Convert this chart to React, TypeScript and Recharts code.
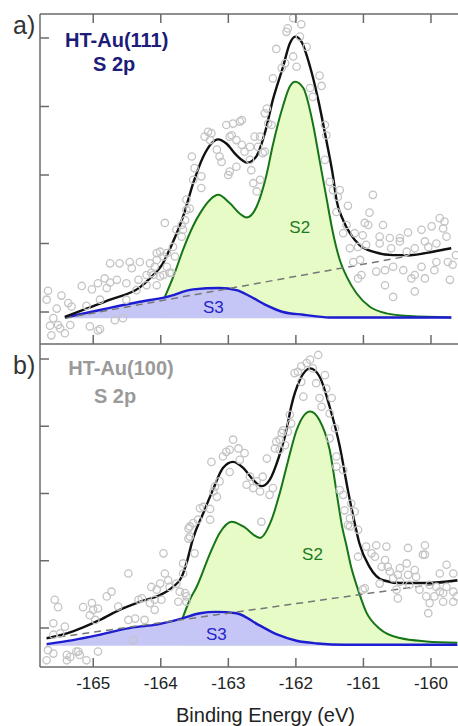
import { ComposedChart, Area, Line, Scatter, XAxis, YAxis } from "recharts";

const xTicks = [-165, -164, -163, -162, -161, -160];
const yTicks = [1, 2, 3, 4, 5];

// a) HT-Au(111) S 2p  — [binding energy, intensity]
const measuredA = [
  [-165.67, 1.31], [-165.69, 1.18], [-165.47, 1.24], [-165.37, 1.13], [-165.54, 1.05], [-165.32, 1.08],
  [-165.59, 0.91], [-165.64, 0.8], [-165.52, 0.81], [-165.62, 0.66], [-165.42, 0.69], [-165.49, 0.76],
  [-165.34, 0.81], [-165.05, 0.79], [-164.9, 0.75], [-164.93, 0.73], [-165.17, 1.38], [-165.02, 1.33],
  [-164.93, 1.42], [-164.83, 1.49], [-164.75, 1.43], [-164.65, 1.47], [-164.8, 1.35], [-164.9, 1.18],
  [-165.1, 1.09], [-164.51, 1.42], [-164.33, 1.47], [-164.21, 1.39], [-164.06, 1.39], [-164.36, 1.32],
  [-164.51, 1.18], [-164.68, 0.88], [-164.56, 0.91], [-164.75, 1.71], [-164.61, 1.71], [-164.46, 1.73],
  [-164.43, 1.64], [-164.31, 1.73], [-164.16, 1.71], [-164.09, 1.66], [-164.01, 1.88], [-163.91, 1.86],
  [-163.91, 1.66], [-163.87, 1.57], [-163.96, 1.54], [-164.11, 1.54], [-164.21, 1.54], [-164.06, 1.86],
  [-163.94, 2.3], [-163.77, 2.2], [-163.69, 2.27], [-163.64, 2.34], [-163.62, 2.49], [-163.57, 2.51],
  [-163.62, 2.64], [-163.54, 3.27], [-163.52, 2.93], [-163.5, 3.1], [-163.4, 2.81], [-163.4, 2.98],
  [-163.35, 3.56], [-163.3, 3.63], [-163.27, 3.51], [-163.25, 3.61], [-163.17, 3.37], [-163.13, 3.27],
  [-163.1, 3.19], [-163.03, 3.73], [-162.93, 3.75], [-162.83, 3.78], [-162.95, 3.58], [-162.88, 3.51],
  [-162.8, 3.44], [-162.98, 3.05], [-163.0, 3.0], [-162.88, 3.12], [-162.76, 3.34], [-162.68, 3.22],
  [-162.66, 3.07], [-162.63, 2.88], [-162.58, 2.76], [-162.53, 2.93], [-162.56, 3.41], [-162.46, 3.34],
  [-162.53, 3.56], [-162.46, 3.9], [-162.41, 3.75], [-164.06, 1.76], [-163.96, 1.81], [-163.82, 1.95],
  [-163.79, 1.81], [-163.84, 1.57], [-163.69, 2.1], [-163.67, 2.2], [-164.14, 1.57], [-164.01, 1.52],
  [-162.04, 5.29], [-161.92, 5.2], [-162.12, 5.14], [-162.14, 5.09], [-161.94, 5.02], [-162.29, 4.84],
  [-162.04, 4.73], [-161.99, 4.58], [-162.21, 4.56], [-162.16, 4.63], [-161.84, 4.87], [-161.65, 4.45],
  [-161.62, 4.3], [-161.79, 4.27], [-161.75, 4.14], [-162.34, 4.41], [-162.43, 3.97], [-162.36, 3.73],
  [-162.8, 3.8], [-162.98, 3.56], [-162.68, 3.41], [-162.49, 3.32], [-162.61, 3.56], [-161.57, 3.73],
  [-161.55, 3.58], [-161.57, 3.22], [-161.5, 2.9], [-161.45, 2.78], [-161.35, 2.78], [-161.38, 2.68],
  [-160.86, 2.71], [-161.4, 2.46], [-161.23, 2.55], [-160.91, 2.45], [-160.98, 2.3], [-160.93, 2.27],
  [-160.71, 2.27], [-161.25, 2.27], [-161.3, 2.15], [-161.13, 2.15], [-161.01, 2.12], [-160.76, 2.1],
  [-160.61, 2.08], [-160.46, 2.08], [-160.34, 2.16], [-160.14, 2.2], [-159.99, 2.25], [-159.87, 2.37],
  [-159.8, 2.32], [-159.82, 2.22], [-159.77, 2.1], [-161.2, 1.93], [-161.08, 1.95], [-160.96, 1.98],
  [-160.76, 2.0], [-160.59, 1.93], [-160.46, 2.03], [-160.36, 1.88], [-160.24, 1.93], [-160.09, 2.03],
  [-160.04, 1.95], [-159.92, 2.0], [-161.15, 1.73], [-161.05, 1.76], [-160.81, 1.59], [-160.68, 1.61],
  [-160.56, 1.66], [-160.41, 1.61], [-160.29, 1.49], [-160.24, 1.54], [-160.14, 1.66], [-160.09, 1.49],
  [-159.95, 1.61], [-159.92, 1.73], [-159.75, 1.73], [-159.72, 1.47], [-161.08, 1.49], [-161.03, 1.54],
  [-160.68, 1.39], [-160.56, 1.22], [-160.24, 1.3], [-159.63, 1.83], [-159.68, 1.69],
];
const envelopeA = [
  [-165.42, 0.93], [-165.1, 1.05], [-164.75, 1.18], [-164.31, 1.36], [-164.12, 1.53], [-163.98, 1.69],
  [-163.87, 1.91], [-163.66, 2.42], [-163.52, 2.88], [-163.37, 3.27], [-163.25, 3.46], [-163.15, 3.52],
  [-163.03, 3.46], [-162.88, 3.29], [-162.72, 3.18], [-162.58, 3.28], [-162.46, 3.61], [-162.34, 4.1],
  [-162.19, 4.58], [-162.09, 4.92], [-162.01, 5.02], [-161.92, 4.95], [-161.79, 4.58], [-161.67, 4.1],
  [-161.55, 3.51], [-161.45, 2.98], [-161.4, 2.64], [-161.3, 2.34], [-161.2, 2.15], [-161.06, 1.98],
  [-160.86, 1.88], [-160.56, 1.83], [-160.32, 1.83], [-159.97, 1.88], [-159.7, 1.93],
];
const s2A = [
  [-163.94, 1.22], [-163.79, 1.58], [-163.67, 1.91], [-163.52, 2.26], [-163.42, 2.44], [-163.27, 2.64],
  [-163.15, 2.71], [-162.98, 2.59], [-162.81, 2.42], [-162.73, 2.38], [-162.58, 2.54], [-162.44, 2.98],
  [-162.34, 3.44], [-162.19, 4.01], [-162.09, 4.29], [-162.01, 4.36], [-161.89, 4.27], [-161.75, 3.76],
  [-161.65, 3.22], [-161.55, 2.68], [-161.45, 2.15], [-161.35, 1.76], [-161.25, 1.52], [-161.1, 1.27],
  [-160.91, 1.08], [-160.66, 0.98], [-160.32, 0.94], [-159.7, 0.92],
];
const s3A = [
  [-165.42, 0.92], [-164.9, 1.03], [-164.31, 1.15], [-163.91, 1.22], [-163.52, 1.33], [-163.13, 1.35],
  [-162.88, 1.32], [-162.68, 1.23], [-162.44, 1.1], [-162.19, 1.0], [-161.89, 0.96], [-161.5, 0.92],
  [-159.7, 0.92],
];
const backgroundA = [[-165.42, 0.91], [-159.7, 1.93]];

// b) HT-Au(100) S 2p
const measuredB = [
  [-165.57, 1.42], [-165.52, 1.31], [-165.59, 1.07], [-165.42, 1.02], [-165.49, 0.92], [-165.59, 0.9],
  [-165.67, 0.67], [-165.59, 0.62], [-165.34, 0.57], [-165.25, 0.65], [-165.2, 0.6], [-165.39, 0.52],
  [-164.93, 0.65], [-165.15, 1.31], [-165.02, 1.37], [-165.0, 1.27], [-164.93, 1.29], [-165.05, 1.19],
  [-164.97, 1.12], [-164.8, 1.47], [-164.73, 1.54], [-164.63, 1.32], [-164.48, 1.81], [-164.48, 1.12],
  [-164.33, 1.42], [-164.28, 1.44], [-164.38, 1.14], [-164.24, 1.12], [-164.16, 1.37], [-164.09, 1.42],
  [-164.09, 1.27], [-164.06, 1.57], [-164.14, 1.61], [-164.01, 1.66], [-163.94, 1.81], [-163.89, 1.71],
  [-163.87, 1.61], [-163.77, 1.66], [-163.72, 1.54], [-163.62, 1.47], [-163.96, 2.11], [-163.67, 1.96],
  [-163.59, 2.48], [-163.57, 2.36], [-165.1, 0.52], [-165.22, 0.65], [-165.69, 0.52], [-165.39, 0.6],
  [-164.41, 0.82], [-160.96, 2.21], [-160.66, 2.21], [-160.34, 2.19], [-160.09, 2.23], [-160.09, 2.09],
  [-159.77, 1.94], [-160.02, 1.37], [-159.82, 1.52], [-159.67, 1.39], [-160.49, 1.44], [-161.01, 1.57],
  [-163.99, 1.42], [-163.64, 1.52], [-163.62, 1.39], [-163.74, 1.39], [-163.67, 1.81], [-163.59, 2.33],
  [-163.57, 2.51], [-163.52, 2.56], [-163.5, 2.11], [-163.45, 2.61], [-163.42, 2.78], [-163.37, 2.8],
  [-163.27, 2.61], [-163.27, 2.77], [-163.22, 3.03], [-163.2, 3.1], [-163.13, 3.18], [-163.17, 2.95],
  [-163.25, 3.47], [-163.08, 3.55], [-163.03, 3.62], [-162.98, 3.65], [-162.93, 3.8], [-162.85, 3.67],
  [-162.98, 3.32], [-162.83, 3.5], [-162.76, 3.6], [-162.68, 3.25], [-162.73, 3.13], [-162.63, 3.08],
  [-162.53, 3.03], [-162.58, 3.18], [-162.49, 3.25], [-162.43, 3.52], [-162.39, 2.98], [-162.34, 3.08],
  [-162.51, 2.58], [-162.29, 3.77], [-162.21, 3.9], [-162.16, 3.72], [-162.24, 3.65], [-162.31, 3.67],
  [-161.67, 5.06], [-161.79, 4.99], [-161.84, 4.94], [-161.92, 4.89], [-161.97, 4.81], [-162.02, 4.79],
  [-161.75, 4.86], [-161.57, 4.76], [-161.7, 4.64], [-161.92, 4.66], [-161.89, 4.44], [-161.55, 4.56],
  [-161.65, 4.42], [-161.47, 4.42], [-161.62, 4.29], [-161.5, 4.19], [-161.42, 3.97], [-161.5, 3.82],
  [-162.19, 3.94], [-162.12, 3.92], [-162.09, 4.17], [-162.07, 4.04], [-162.24, 3.8], [-161.4, 3.4],
  [-161.3, 3.35], [-161.4, 3.55], [-161.35, 3.05], [-161.3, 2.98], [-161.18, 2.85], [-161.13, 2.73],
  [-161.28, 2.75], [-161.2, 2.63], [-161.08, 2.46], [-161.2, 2.51], [-161.23, 2.53], [-160.81, 2.23],
  [-160.88, 2.11], [-161.08, 2.06], [-160.83, 2.06], [-160.68, 2.01], [-160.73, 1.91], [-160.64, 1.91],
  [-160.61, 1.84], [-160.46, 1.89], [-160.36, 1.96], [-160.12, 2.09], [-160.24, 1.86], [-160.22, 1.76],
  [-160.34, 1.79], [-160.49, 1.79], [-160.46, 1.69], [-160.56, 1.74], [-160.32, 1.64], [-160.51, 1.57],
  [-160.17, 1.57], [-160.02, 1.64], [-159.87, 1.81], [-159.67, 1.81], [-159.92, 1.61], [-159.77, 1.61],
  [-159.87, 1.54], [-159.95, 1.47], [-160.07, 1.47], [-159.82, 1.39], [-159.67, 1.54], [-160.76, 1.66],
  [-160.04, 1.22], [-159.62, 1.47], [-160.98, 1.59],
];
const envelopeB = [
  [-165.69, 0.85], [-165.39, 0.92], [-165.15, 1.01], [-164.9, 1.12], [-164.61, 1.27], [-164.31, 1.39],
  [-164.01, 1.49], [-163.82, 1.61], [-163.69, 1.76], [-163.62, 1.96], [-163.52, 2.34], [-163.37, 2.71],
  [-163.23, 3.05], [-163.08, 3.38], [-162.93, 3.47], [-162.78, 3.38], [-162.63, 3.2], [-162.51, 3.11],
  [-162.39, 3.2], [-162.25, 3.55], [-162.14, 3.94], [-162.07, 4.29], [-161.94, 4.69], [-161.79, 4.86],
  [-161.65, 4.74], [-161.5, 4.29], [-161.35, 3.7], [-161.23, 3.05], [-161.14, 2.61], [-161.06, 2.26],
  [-160.91, 1.91], [-160.71, 1.71], [-160.46, 1.67], [-160.07, 1.67], [-159.61, 1.71],
];
const s2B = [
  [-163.68, 1.14], [-163.57, 1.42], [-163.47, 1.61], [-163.27, 2.11], [-163.13, 2.41], [-162.95, 2.58],
  [-162.78, 2.51], [-162.53, 2.34], [-162.36, 2.61], [-162.24, 3.0], [-162.12, 3.47], [-161.99, 3.94],
  [-161.79, 4.22], [-161.65, 4.09], [-161.5, 3.65], [-161.38, 2.9], [-161.32, 2.53], [-161.25, 2.22],
  [-161.19, 1.94], [-161.08, 1.57], [-160.96, 1.24], [-160.76, 0.99], [-160.46, 0.85], [-160.07, 0.8],
  [-159.61, 0.78],
];
const s3B = [
  [-165.69, 0.76], [-165.3, 0.82], [-164.9, 0.9], [-164.41, 1.01], [-164.06, 1.05], [-163.69, 1.14],
  [-163.42, 1.22], [-163.18, 1.24], [-162.88, 1.22], [-162.56, 1.05], [-162.27, 0.9], [-161.99, 0.81],
  [-161.68, 0.77], [-161.28, 0.75], [-159.61, 0.75],
];
const backgroundB = [[-165.69, 0.84], [-159.61, 1.7]];

const toXY = (rows: number[][]) => rows.map(([x, y]) => ({ x, y }));

const AXIS = "#6a6a6a";
const FONT = "'Liberation Sans', Arial, sans-serif";
const X_DOMAIN: [number, number] = [-165.788, -159.6];
const PLOT_LEFT = 40;
const PLOT_WIDTH = 418;
// frame rows: top of a), a)/b) divider, bottom of b)
const FRAME_TOP = 14;
const FRAME_MID = 344;
const FRAME_BOTTOM = 667;
const tickX = (t: number) =>
  PLOT_LEFT + ((t - X_DOMAIN[0]) / (X_DOMAIN[1] - X_DOMAIN[0])) * PLOT_WIDTH;

const ring = (p: any) => (
  <circle cx={p.cx} cy={p.cy} r={3.7} fill="none" stroke="#c4c4c4" strokeWidth={1.3} />
);

const bottomLabel = (t: any) => (
  <text x={t.x} y={t.y + 21.5} textAnchor="middle" fontSize={17} fill="#222" fontFamily={FONT}>
    {t.payload.value}
  </text>
);
const leftTick = (t: any) => (
  <line x1={t.x} x2={t.x + 9} y1={t.y} y2={t.y} stroke={AXIS} strokeWidth={1.5} />
);

type PanelProps = {
  height: number;
  top: number;
  bottomHeight: number;
  yDomain: [number, number];
  base: number;
  measured: number[][];
  envelope: number[][];
  s2: number[][];
  s3: number[][];
  background: number[][];
  bottomLabels: boolean;
};

function Panel(p: PanelProps) {
  return (
    <ComposedChart width={458} height={p.height} margin={{ top: p.top, right: 0, bottom: 0, left: 0 }}>
      <XAxis
        type="number"
        dataKey="x"
        domain={X_DOMAIN}
        allowDataOverflow
        ticks={xTicks}
        height={p.bottomHeight}
        tickSize={0}
        tickMargin={0}
        tickLine={false}
        axisLine={false}
        tick={p.bottomLabels ? bottomLabel : false}
      />
      <YAxis
        type="number"
        dataKey="y"
        domain={p.yDomain}
        allowDataOverflow
        ticks={yTicks}
        width={40}
        tickSize={0}
        tickMargin={0}
        tickLine={false}
        tick={leftTick}
        stroke={AXIS}
        strokeWidth={1.5}
      />
      <Area
        data={toXY(p.s2)}
        dataKey="y"
        type="monotone"
        baseValue={p.base}
        stroke="#167516"
        strokeWidth={2}
        fill="#e6fbc6"
        fillOpacity={1}
        isAnimationActive={false}
      />
      <Area
        data={toXY(p.s3)}
        dataKey="y"
        type="monotone"
        baseValue={p.base}
        stroke="#1c1cd0"
        strokeWidth={2.4}
        fill="#c6c6f6"
        fillOpacity={1}
        isAnimationActive={false}
      />
      <Scatter data={toXY(p.measured)} dataKey="y" shape={ring} isAnimationActive={false} />
      <Line
        data={toXY(p.background)}
        dataKey="y"
        type="linear"
        stroke="#777"
        strokeWidth={1.5}
        strokeDasharray="7 5"
        dot={false}
        isAnimationActive={false}
      />
      <Line
        data={toXY(p.envelope)}
        dataKey="y"
        type="monotone"
        stroke="#111"
        strokeWidth={2.4}
        dot={false}
        isAnimationActive={false}
      />
    </ComposedChart>
  );
}

export default function App() {
  return (
    <div style={{ position: "relative", width: 458, height: 726, fontFamily: FONT }}>
      <style>{`body{margin:0}`}</style>
      <div style={{ position: "absolute", left: 0, top: 0 }}>
        <Panel
          height={364}
          top={FRAME_TOP}
          bottomHeight={20}
          yDomain={[0.533, 5.35]}
          base={0.908}
          measured={measuredA}
          envelope={envelopeA}
          s2={s2A}
          s3={s3A}
          background={backgroundA}
          bottomLabels={false}
        />
      </div>
      <div style={{ position: "absolute", left: 0, top: FRAME_MID }}>
        <Panel
          height={382}
          top={0}
          bottomHeight={59}
          yDomain={[0.42, 5.223]}
          base={0.735}
          measured={measuredB}
          envelope={envelopeB}
          s2={s2B}
          s3={s3B}
          background={backgroundB}
          bottomLabels={true}
        />
      </div>
      <svg
        width={458}
        height={726}
        style={{ position: "absolute", left: 0, top: 0, pointerEvents: "none" }}
        fontFamily={FONT}
      >
        {/* horizontal frame edges with inward x ticks */}
        <g stroke={AXIS} strokeWidth={1.5}>
          {[FRAME_TOP, FRAME_MID, FRAME_BOTTOM].map((y) => (
            <line key={"h" + y} x1={PLOT_LEFT} x2={PLOT_LEFT + PLOT_WIDTH} y1={y} y2={y} />
          ))}
          {xTicks.map((t) => (
            <g key={"t" + t}>
              <line x1={tickX(t)} x2={tickX(t)} y1={FRAME_TOP} y2={FRAME_TOP + 9} />
              <line x1={tickX(t)} x2={tickX(t)} y1={FRAME_MID} y2={FRAME_MID - 9} />
              <line x1={tickX(t)} x2={tickX(t)} y1={FRAME_BOTTOM} y2={FRAME_BOTTOM - 9} />
            </g>
          ))}
        </g>
        <text x={13} y={33.5} fontSize={25} fill="#333">a)</text>
        <text x={13} y={373.5} fontSize={25} fill="#333">b)</text>
        <text x={116.7} y={46.7} fontSize={20} fontWeight="bold" fill="#1c1c78" textAnchor="middle">HT-Au(111)</text>
        <text x={114.2} y={70.5} fontSize={20} fontWeight="bold" fill="#1c1c78" textAnchor="middle">S 2p</text>
        <text x={121} y={375} fontSize={20} fontWeight="bold" fill="#9a9a9a" textAnchor="middle">HT-Au(100)</text>
        <text x={115} y={403.3} fontSize={20} fontWeight="bold" fill="#9a9a9a" textAnchor="middle">S 2p</text>
        <text x={299.7} y={232.7} fontSize={17} fill="#1e7a1e" textAnchor="middle">S2</text>
        <text x={213.3} y={313.3} fontSize={17} fill="#2424c8" textAnchor="middle">S3</text>
        <text x={312.5} y={560} fontSize={17} fill="#1e7a1e" textAnchor="middle">S2</text>
        <text x={216.3} y={640} fontSize={17} fill="#2424c8" textAnchor="middle">S3</text>
        <text x={265.5} y={721.5} fontSize={20} fill="#222" textAnchor="middle">Binding Energy (eV)</text>
      </svg>
    </div>
  );
}
